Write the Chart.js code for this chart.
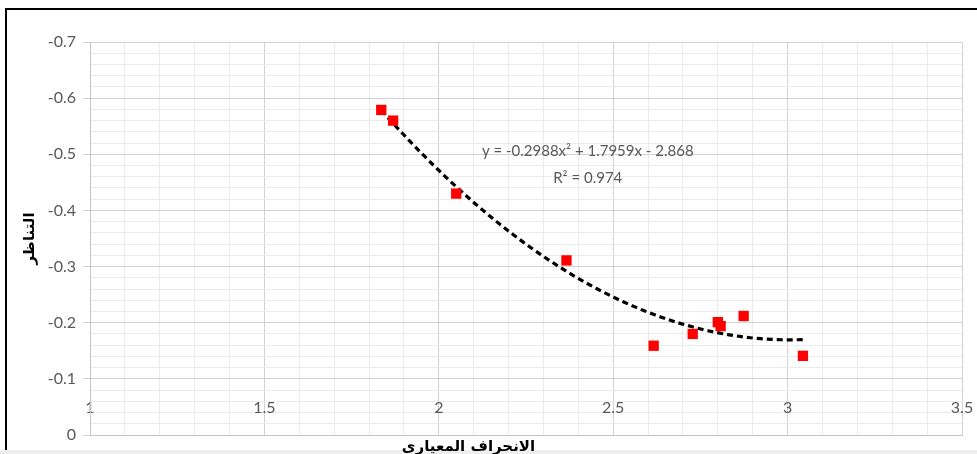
<!DOCTYPE html>
<html>
<head>
<meta charset="utf-8">
<script src="https://cdn.jsdelivr.net/npm/chart.js@4/dist/chart.umd.min.js"></script>
<style>
  html, body { margin: 0; padding: 0; background: #ffffff; }
  #wrap { position: relative; width: 977px; height: 454px; overflow: hidden; }
  #frame {
    position: absolute; left: 5px; top: 8px; width: 980px; height: 442px;
    border-top: 2px solid #000; border-left: 2px solid #000; box-sizing: border-box;
  }
  #base { position: absolute; left: 0; top: 450px; width: 977px; height: 4px; background: #eeeeee; }
  #chart { position: absolute; left: 0; top: 0; }
</style>
</head>
<body>
<div id="wrap">
  <div id="frame"></div>
  <div id="base"></div>
  <canvas id="chart" width="977" height="454"></canvas>
</div>
<script>
// Standard deviation (x) and skewness (y) of each sample
const stdDev = [1.835, 1.869, 2.050, 2.366, 2.616, 2.728, 2.800, 2.808, 2.874, 3.044];
const skewness = [-0.579, -0.560, -0.430, -0.311, -0.159, -0.180, -0.201, -0.194, -0.212, -0.141];

// Quadratic trend line: y = a*x^2 + b*x + c, and its R²
const trendCoef = [-0.2988, 1.7959, -2.868];
const trendRange = [1.835, 3.044];
const rSquared = 0.974;

// Axis tick labels
const xTickLabels = ['1', '1.5', '2', '2.5', '3', '3.5'];
const yTickLabels = ['0', '-0.1', '-0.2', '-0.3', '-0.4', '-0.5', '-0.6', '-0.7'];

const xTitle = 'الانحراف المعيارى';
const yTitle = 'التناظر';

const points = stdDev.map((x, i) => ({ x: x, y: skewness[i] }));

const trendPoints = [];
const nSeg = 80;
for (let i = 0; i <= nSeg; i++) {
  const x = trendRange[0] + (trendRange[1] - trendRange[0]) * i / nSeg;
  trendPoints.push({ x: x, y: trendCoef[0] * x * x + trendCoef[1] * x + trendCoef[2] });
}

const eqText = 'y = ' + trendCoef[0] + 'x² + ' + trendCoef[1] + 'x - ' + Math.abs(trendCoef[2]);
const r2Text = 'R² = ' + rSquared;

const TICK_COLOR = '#595959';
const MAJOR_GRID = '#d2d2d2';
const MINOR_GRID = '#ebebeb';
const numFont = { family: 'Lato, "Liberation Sans", sans-serif', size: 16 };

function isMultiple(v, step) {
  const q = v / step;
  return Math.abs(q - Math.round(q)) < 1e-6;
}

// Equation / R² annotation and the horizontal axis title
const annotations = {
  id: 'annotations',
  afterDatasetsDraw(chart) {
    const { ctx, scales, chartArea } = chart;
    const xs = scales.x, ys = scales.y;
    ctx.save();
    ctx.fillStyle = TICK_COLOR;
    ctx.font = '15px Lato, "Liberation Sans", sans-serif';
    ctx.textAlign = 'center';
    ctx.textBaseline = 'middle';
    const ex = xs.getPixelForValue(2.427);
    ctx.fillText(eqText, ex, ys.getPixelForValue(-0.505));
    ctx.fillText(r2Text, ex, ys.getPixelForValue(-0.457));

    ctx.fillStyle = '#000000';
    ctx.font = 'bold 15px "DejaVu Sans", sans-serif';
    ctx.fillText(xTitle, xs.getPixelForValue(2.085), chartArea.bottom + 12);
    ctx.restore();
  }
};

new Chart(document.getElementById('chart'), {
  type: 'scatter',
  data: {
    datasets: [
      {
        label: 'trend',
        data: trendPoints,
        showLine: true,
        borderColor: '#000000',
        borderWidth: 3.2,
        borderDash: [6, 4],
        pointRadius: 0,
        pointHoverRadius: 0,
        tension: 0,
        order: 2
      },
      {
        label: 'skewness',
        data: points,
        pointStyle: 'rect',
        pointRadius: 7.3,
        pointHoverRadius: 7.3,
        backgroundColor: '#ff0000',
        borderWidth: 0,
        order: 1
      }
    ]
  },
  options: {
    responsive: false,
    animation: false,
    events: [],
    layout: { padding: { left: 6, right: 15, top: 42, bottom: 0 } },
    plugins: { legend: { display: false }, tooltip: { enabled: false } },
    scales: {
      x: {
        type: 'linear',
        position: 'bottom',
        min: 1, max: 3.5,
        ticks: { display: false, stepSize: 0.1, autoSkip: false },
        grid: {
          drawTicks: false,
          color: c => isMultiple(c.tick.value, 0.5) ? MAJOR_GRID : MINOR_GRID
        },
        border: { color: '#c4c4c4' },
        afterFit: s => { s.height = 19; }
      },
      xLabels: {
        type: 'linear',
        position: { y: -0.066 },
        min: 1, max: 3.5,
        grid: { display: false, drawTicks: false },
        border: { display: false },
        ticks: {
          stepSize: 0.5,
          autoSkip: false,
          maxRotation: 0,
          padding: 0,
          color: TICK_COLOR,
          font: numFont,
          callback: v => xTickLabels[Math.round((v - 1) * 2)]
        }
      },
      y: {
        type: 'linear',
        position: 'left',
        reverse: true,
        min: -0.7, max: 0,
        ticks: {
          stepSize: 0.02,
          autoSkip: false,
          padding: 7,
          color: TICK_COLOR,
          font: numFont,
          callback: v => isMultiple(v, 0.1) ? yTickLabels[Math.round(-v * 10)] : ''
        },
        grid: {
          tickLength: 7,
          color: c => isMultiple(c.tick.value, 0.1) ? MAJOR_GRID : MINOR_GRID,
          tickColor: c => isMultiple(c.tick.value, 0.1) ? MAJOR_GRID : 'rgba(0,0,0,0)'
        },
        border: { color: '#c4c4c4' },
        title: {
          display: true,
          text: yTitle,
          color: '#000000',
          font: { family: '"DejaVu Sans", sans-serif', size: 15, weight: 'bold' },
          padding: { top: 15, bottom: 0 }
        },
        afterFit: s => { s.width = 84; }
      }
    }
  },
  plugins: [annotations]
});
</script>
</body>
</html>
